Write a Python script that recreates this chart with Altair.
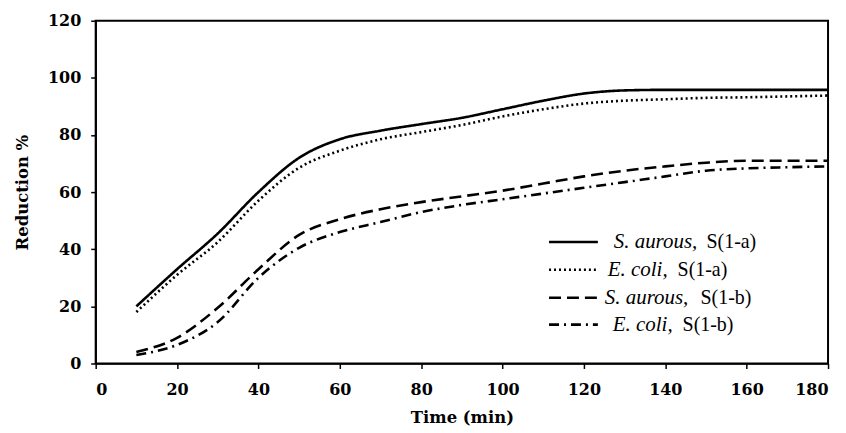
import altair as alt
import pandas as pd

# ---- data ----
time_min = [10, 20, 30, 40, 50, 60, 70, 80, 90, 100, 110, 120, 130, 140, 150, 160, 170, 180]
s_aurous_a = [20, 33, 45.5, 60, 72, 78.5, 81.5, 83.8, 86, 89, 92, 94.5, 95.6, 95.8, 95.8, 95.8, 95.8, 95.8]
e_coli_a = [18, 31, 42.5, 57, 68.5, 74.5, 78.5, 81, 83.5, 86.5, 89, 91, 92, 92.5, 93, 93.2, 93.5, 93.8]
s_aurous_b = [4, 9, 19.5, 33, 45, 50.5, 54, 56.5, 58.5, 60.5, 63, 65.5, 67.5, 69, 70.3, 71, 71, 71]
e_coli_b = [3, 6.5, 14.5, 30, 40.5, 46, 49.5, 53, 55.5, 57.5, 59.5, 61.5, 63.5, 65.5, 67.5, 68.3, 68.7, 69]

series_keys = ["Sa_a", "Ec_a", "Sa_b", "Ec_b"]
series_values = [s_aurous_a, e_coli_a, s_aurous_b, e_coli_b]
legend_species = ["S. aurous,", "E. coli,", "S. aurous,", "E. coli,"]
legend_suffix = ["S(1-a)", "S(1-a)", "S(1-b)", "S(1-b)"]

x_ticks = [0, 20, 40, 60, 80, 100, 120, 140, 160, 180]
y_ticks = [0, 20, 40, 60, 80, 100, 120]

# ---- build tables ----
rows = []
for k, vals in zip(series_keys, series_values):
    for t, v in zip(time_min, vals):
        rows.append({"time": t, "value": v, "series": k})
df = pd.DataFrame(rows)

# legend layout (pixels inside plot area)
leg_y = [222, 250, 278, 305]
leg_sym_x0 = 455
leg_sym_x1 = 504
leg_it_x = [520, 514, 511, 519]
leg_norm_x = [613, 584, 607, 589]
leg = pd.DataFrame({
    "series": series_keys,
    "species": legend_species,
    "suffix": legend_suffix,
    "py": leg_y,
    "ix": leg_it_x,
    "nx": leg_norm_x,
    "x0": [leg_sym_x0] * 4,
    "x1": [leg_sym_x1] * 4,
})

dash_scale = alt.Scale(domain=series_keys,
                       range=[[1, 0], [2, 3], [12, 6], [10, 5, 2, 5]])

W, H = 735, 344
FONT = "Liberation Serif"
AXFONT = "DejaVu Serif"

lines = alt.Chart(df).mark_line(color="black", strokeWidth=2.6, interpolate="monotone", strokeCap="butt").encode(
    x=alt.X("time:Q", scale=alt.Scale(domain=[0, 180], nice=False),
            axis=alt.Axis(title="Time (min)", values=x_ticks, format="d", labelPadding=13,
                          titleY=59, titleBaseline="alphabetic")),
    y=alt.Y("value:Q", scale=alt.Scale(domain=[0, 120], nice=False),
            axis=alt.Axis(title="Reduction %", values=y_ticks, format="d", labelPadding=10,
                          titleX=-68, titleY=H / 2, titleAngle=270,
                          titleAlign="center", titleBaseline="alphabetic")),
    strokeDash=alt.StrokeDash("series:N", scale=dash_scale, legend=None),
    detail="series:N",
)

leg_rules = alt.Chart(leg).mark_rule(color="black", strokeWidth=2.6, strokeCap="butt").encode(
    x=alt.X("x0:Q", scale=None),
    x2="x1:Q",
    y=alt.Y("py:Q", scale=None),
    strokeDash=alt.StrokeDash("series:N", scale=dash_scale, legend=None),
)

leg_it = alt.Chart(leg).mark_text(align="left", baseline="middle", font=FONT,
                                  fontSize=21, fontStyle="italic", color="black").encode(
    x=alt.X("ix:Q", scale=None),
    y=alt.Y("py:Q", scale=None),
    text="species:N",
)

leg_norm = alt.Chart(leg).mark_text(align="left", baseline="middle", font=FONT,
                                    fontSize=20, color="black").encode(
    x=alt.X("nx:Q", scale=None),
    y=alt.Y("py:Q", scale=None),
    text="suffix:N",
)

chart = alt.layer(lines, leg_rules, leg_it, leg_norm).properties(
    width=W, height=H,
    background="white",
    autosize=alt.AutoSizeParams(type="none"),
    padding={"left": 88, "top": 12, "right": 10, "bottom": 69},
).configure_view(
    stroke="black", strokeWidth=2,
).configure_axis(
    domainColor="black", domainWidth=1.5, tickColor="black", tickWidth=1.5, tickSize=5,
    labelFont=AXFONT, labelFontSize=16, labelFontWeight="bold", labelColor="black",
    titleFont=AXFONT, titleFontSize=16.5, titleFontWeight="bold", titleColor="black",
    grid=False,
)

chart.save("out.html", embed_options={"renderer": "svg", "actions": False})
